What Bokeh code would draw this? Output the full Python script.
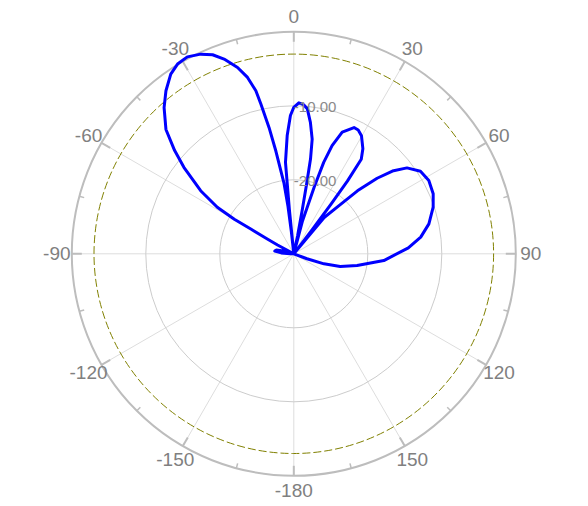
import numpy as np
from bokeh.plotting import figure
from bokeh.models import Range1d
from bokeh.embed import file_html
from bokeh.resources import INLINE
from bokeh.core.properties import value

# ---- data (angle in degrees, clockwise from top; gain in dB) ----
angle_deg = [-100, -90, -86, -82, -78, -74, -70, -63, -61.5, -60.8, -60.1, -59.8,
             -58.7, -55.9, -51.8, -49.1, -45.8, -41.6, -38.1, -34.4, -31.5, -28.4,
             -25.0, -22.2, -19.7, -16.8, -14.7, -13.1, -12.4, -11.1, -9.9, -7.9,
             -7.0, -6.3, -6.0, -5.7, -5.2, -3.2, -1.4, 0.0, 1.9, 3.7, 5.3, 7.2,
             9.1, 10.0, 10.4, 10.9, 11.8, 12.8, 14.8, 17.0, 18.1, 19.5, 21.7,
             25.5, 27.5, 29.8, 33.3, 35.5, 36.4, 36.8, 37.2, 37.8, 39.9, 43.4,
             45.3, 47.8, 50.0, 52.8, 56.9, 61.5, 66.7, 71.5, 77.5, 82.5, 87.0,
             94.3, 100.5, 105.2, 108.4, 110.5, 113.0, 120]
gain_db = [-30, -29.5, -28.3, -27.4, -27.6, -28.8, -30, -30, -27.5, -25.9, -23.3, -20.7,
           -17.9, -14.8, -11.1, -8.7, -5.9, -3.6, -2.0, -0.57, 0.07, 0.25,
           -0.23, -0.95, -2.05, -3.7, -5.36, -7.38, -9.28, -12.6, -15.9, -20.4,
           -23.5, -27.0, -30, -24.0, -17.6, -14.0, -11.3, -10.2, -9.58, -9.8, -10.3, -12.1,
           -14.3, -17.0, -20.5, -24.0, -27.5, -30, -25.4, -20.6, -17.0, -14.5, -12.3,
           -11.1, -11.15, -11.6, -13.0, -14.3, -17.8, -21.6, -25.8, -30, -23.6, -20.8,
           -17.9, -14.8, -12.6, -10.8, -9.57, -9.24, -9.49, -10.14, -11.3, -12.7, -14.5,
           -17.8, -21.3, -23.5, -25.7, -28.1, -30, -30]

r_min, r_max = -30, 0
ring_levels = [-20, -10]
ring_labels = ["-20.00", "-10.00"]
half_power_db = -3
angle_ticks = [0, 30, 60, 90, 120, 150, 180, 210, 240, 270, 300, 330]
angle_tick_labels = ["0", "30", "60", "90", "120", "150", "-180", "-150",
                     "-120", "-90", "-60", "-30"]
minor_ticks = [15, 45, 75, 105, 135, 165, 195, 225, 255, 285, 315, 345]

# ---- layout ----
W, H = 588, 506
S = 7.4          # pixels per dB
cx, cy = 293.3, 253.3

def rad(db):
    return np.clip(np.asarray(db, dtype=float), r_min, None) - r_min

def pol(r, a_deg):
    a = np.radians(np.asarray(a_deg, dtype=float))
    return r * np.sin(a), r * np.cos(a)

p = figure(width=W, height=H,
           x_range=Range1d(-cx / S, (W - cx) / S),
           y_range=Range1d(-(H - cy) / S, cy / S),
           x_axis_type=None, y_axis_type=None,
           toolbar_location=None, output_backend="svg",
           min_border=0, outline_line_color=None,
           background_fill_color="white", border_fill_color="white")

R = float(rad(r_max))

# spokes
sx, sy = pol(R, angle_ticks)
p.segment(x0=[0] * len(sx), y0=[0] * len(sy), x1=sx, y1=sy,
          line_color="#dddddd", line_width=1)

# rings
p.circle(x=[0] * len(ring_levels), y=[0] * len(ring_levels), radius=list(rad(ring_levels)),
         fill_color=None, line_color="#cccccc", line_width=1)

# -3 dB dashed ring
p.circle(x=[0], y=[0], radius=[float(rad(half_power_db))], fill_color=None,
         line_color="#808000", line_width=1, line_dash="8 3")

# outer ring
p.circle(x=[0], y=[0], radius=[R], fill_color=None, line_color="#bdbdbd", line_width=2)

# ticks
mx0, my0 = pol(R, angle_ticks)
mx1, my1 = pol(R - 10 / S, angle_ticks)
p.segment(x0=mx0, y0=my0, x1=mx1, y1=my1, line_color="#bdbdbd", line_width=2)
nx0, ny0 = pol(R, minor_ticks)
nx1, ny1 = pol(R - 5 / S, minor_ticks)
p.segment(x0=nx0, y0=ny0, x1=nx1, y1=ny1, line_color="#bdbdbd", line_width=1.5)

# angle labels
lx, ly = pol(237 / S, angle_ticks)
p.text(x=lx, y=ly, text=angle_tick_labels, text_align="center", text_baseline="middle",
       text_font=value("Liberation Sans"), text_font_size="19px", text_color="#808080")

# data
dx, dy = pol(rad(gain_db), angle_deg)
p.line(dx, dy, line_color="#0000ff", line_width=3, line_join="round")

# ring labels
p.text(x=[0] * len(ring_levels), y=list(rad(ring_levels) - 0.15), text=ring_labels,
       text_align="left", text_baseline="alphabetic",
       text_font=value("Liberation Sans"), text_font_size="15px", text_color="#8a8a8a")

open("out.html", "w").write(file_html(p, INLINE))
